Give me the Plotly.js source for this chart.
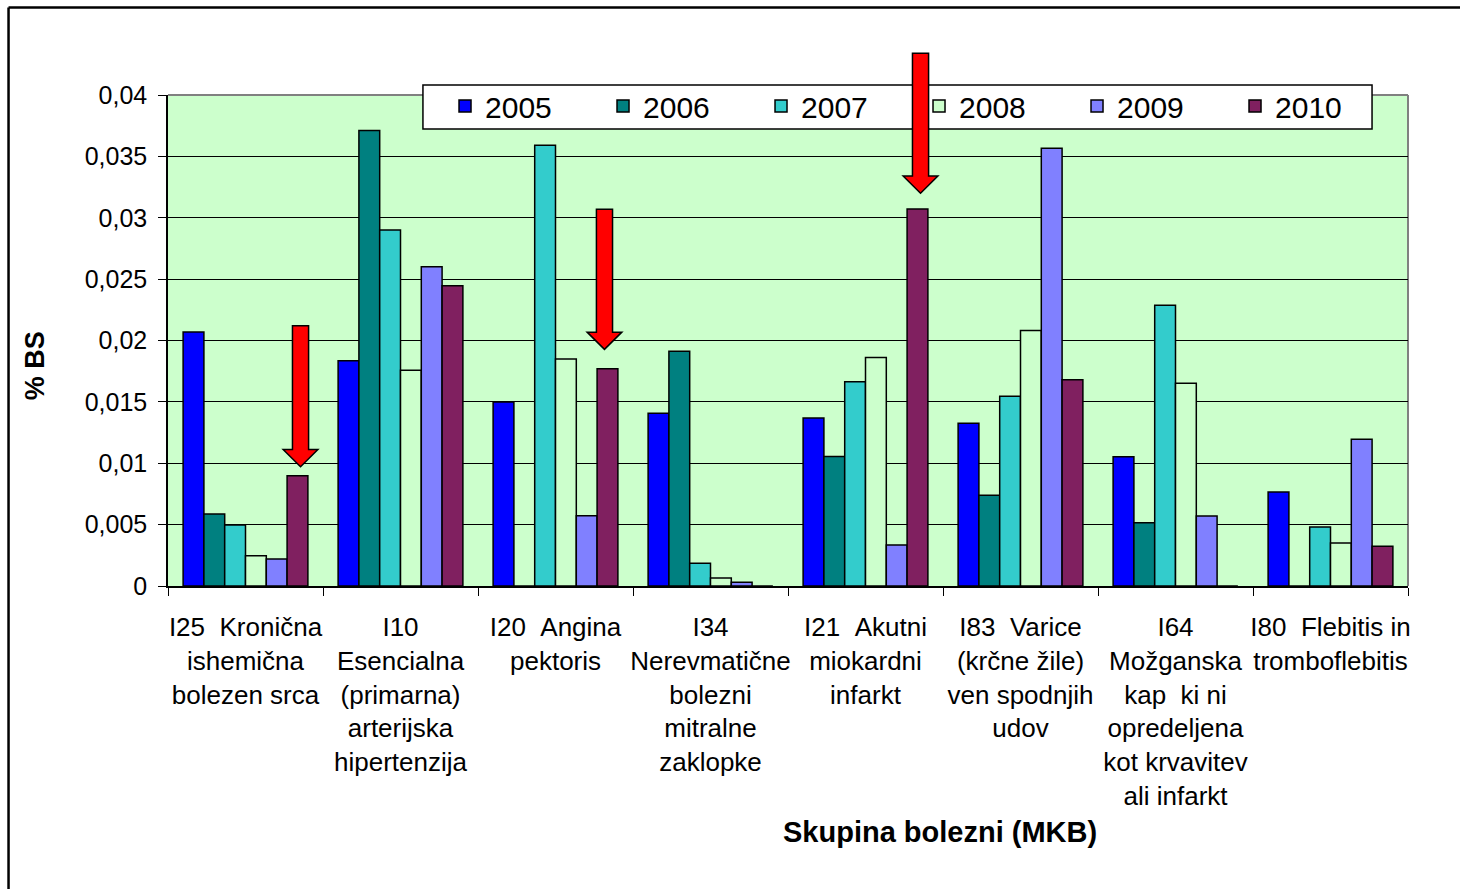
<!DOCTYPE html>
<html>
<head>
<meta charset="utf-8">
<script src="https://cdn.plot.ly/plotly-3.0.1.min.js"></script>
<style>html,body{margin:0;padding:0;background:#fff;}#chart{width:1460px;height:889px;}</style>
</head>
<body>
<div id="chart"></div>
<script>
var NB = '\u00a0';
var categories = [
  'I25' + NB + NB + 'Kronična<br>ishemična<br>bolezen srca',
  'I10<br>Esencialna<br>(primarna)<br>arterijska<br>hipertenzija',
  'I20' + NB + NB + 'Angina<br>pektoris',
  'I34<br>Nerevmatične<br>bolezni<br>mitralne<br>zaklopke',
  'I21' + NB + NB + 'Akutni<br>miokardni<br>infarkt',
  'I83' + NB + NB + 'Varice<br>(krčne žile)<br>ven spodnjih<br>udov',
  'I64<br>Možganska<br>kap' + NB + NB + 'ki ni<br>opredeljena<br>kot krvavitev<br>ali infarkt',
  'I80' + NB + NB + 'Flebitis in<br>tromboflebitis'
];
var years = ['2005', '2006', '2007', '2008', '2009', '2010'];
var v2005 = [0.0207, 0.01836, 0.0150, 0.01407, 0.01369, 0.01325, 0.01052, 0.00766];
var v2006 = [0.00587, 0.0371, 0, 0.01912, 0.01054, 0.0074, 0.00516, 0];
var v2007 = [0.00497, 0.0290, 0.0359, 0.00185, 0.01663, 0.01546, 0.02288, 0.00481];
var v2008 = [0.00247, 0.01757, 0.0185, 0.00065, 0.01861, 0.02082, 0.01652, 0.0035];
var v2009 = [0.0022, 0.0260, 0.00573, 0.0003, 0.00335, 0.03567, 0.00571, 0.01196];
var v2010 = [0.00899, 0.02447, 0.0177, 0, 0.03072, 0.0168, 0, 0.00323];
var seriesValues = [v2005, v2006, v2007, v2008, v2009, v2010];
var colors = ['#0000FF', '#008080', '#33CCCC', '#CCFFCC', '#8080FF', '#802060'];
var yTickVals = [0, 0.005, 0.01, 0.015, 0.02, 0.025, 0.03, 0.035, 0.04];
var yTickText = ['0', '0,005', '0,01', '0,015', '0,02', '0,025', '0,03', '0,035', '0,04'];

// red highlight arrows: position (category index), top value, tip value
var arrowX = [0.355, 2.316, 4.355];
var arrowTop = [0.0212, 0.0307, 0.0434];
var arrowTip = [0.00972, 0.01928, 0.0320];

var yMax = 0.04;
var xMin = -0.5, xMax = 7.5;

var traces = years.map(function (y, i) {
  return {
    type: 'bar',
    name: y,
    x: categories,
    y: seriesValues[i],
    marker: {color: colors[i], line: {color: '#000000', width: 1.5}},
    hoverinfo: 'x+y+name'
  };
});

function xd(v) { return (v - xMin) / (xMax - xMin); }
function yd(v) { return v / yMax; }

var shapes = [];
// legend box (white, drawn under the arrows so the arrow crosses it)
shapes.push({type: 'rect', xref: 'paper', yref: 'paper', x0: 0.2056, x1: 0.971, y0: 0.9308, y1: 1.0204,
  fillcolor: '#FFFFFF', line: {color: '#000000', width: 1.5}, layer: 'above'});
var headLen = 0.0014, shaftHW = 0.052, headHW = 0.112;
for (var i = 0; i < arrowX.length; i++) {
  var c = arrowX[i], t = arrowTop[i], tip = arrowTip[i], hb = tip + headLen;
  var p = 'M' + xd(c - shaftHW) + ',' + yd(t) +
    ' L' + xd(c + shaftHW) + ',' + yd(t) +
    ' L' + xd(c + shaftHW) + ',' + yd(hb) +
    ' L' + xd(c + headHW) + ',' + yd(hb) +
    ' L' + xd(c) + ',' + yd(tip) +
    ' L' + xd(c - headHW) + ',' + yd(hb) +
    ' L' + xd(c - shaftHW) + ',' + yd(hb) + ' Z';
  shapes.push({type: 'path', xref: 'x domain', yref: 'y domain', path: p,
    fillcolor: '#FF0000', line: {color: '#000000', width: 1.5}, layer: 'above'});
}
// plot area border (top/right in gray)
shapes.push({type: 'line', xref: 'paper', yref: 'paper', x0: 0, x1: 1, y0: 1, y1: 1, line: {color: '#808080', width: 2}, layer: 'below'});
shapes.push({type: 'line', xref: 'paper', yref: 'paper', x0: 1, x1: 1, y0: 0, y1: 1, line: {color: '#808080', width: 2}, layer: 'below'});
// outer chart frame
shapes.push({type: 'line', xref: 'paper', yref: 'paper', x0: -0.1286, x1: -0.1286, y0: -0.7, y1: 1.1782, line: {color: '#000000', width: 2.5}});
shapes.push({type: 'line', xref: 'paper', yref: 'paper', x0: -0.1286, x1: 1.2, y0: 1.1782, y1: 1.1782, line: {color: '#000000', width: 2.5}});

var layout = {
  width: 1460, height: 889,
  margin: {l: 168, r: 52, t: 95, b: 303},
  paper_bgcolor: '#FFFFFF',
  plot_bgcolor: '#CCFFCC',
  font: {family: 'Liberation Sans, Arial, sans-serif', color: '#000000', size: 25},
  barmode: 'group',
  bargap: 0.195,
  bargroupgap: 0,
  showlegend: true,
  legend: {
    orientation: 'h', x: 0.2234, y: 1.0305, xanchor: 'left', yanchor: 'top',
    bgcolor: 'rgba(0,0,0,0)', borderwidth: 0,
    font: {size: 30, family: 'Liberation Sans, Arial, sans-serif'},
    entrywidth: 113, entrywidthmode: 'pixels', traceorder: 'normal'
  },
  xaxis: {
    type: 'category', range: [xMin, xMax],
    tickson: 'boundaries', ticks: 'outside', ticklen: 8, tickcolor: '#000000', tickwidth: 1,
    showline: true, linecolor: '#000000', linewidth: 1.5,
    showgrid: false, tickangle: 0, automargin: false,
    ticklabelstandoff: 17,
    tickfont: {size: 26}
  },
  yaxis: {
    range: [0, yMax], tickvals: yTickVals, ticktext: yTickText,
    ticks: 'outside', ticklen: 8, tickcolor: '#000000', tickwidth: 1,
    showline: true, linecolor: '#000000', linewidth: 1.5,
    showgrid: true, gridcolor: '#000000', gridwidth: 1,
    zeroline: false, automargin: false, tickfont: {size: 25},
    ticklabelstandoff: 6
  },
  annotations: [{
    xref: 'paper', yref: 'paper', x: 0.6226, y: -0.5, xanchor: 'center', yanchor: 'middle',
    text: '<b>Skupina bolezni (MKB)</b>', showarrow: false, font: {size: 29}
  }, {
    xref: 'paper', yref: 'paper', x: -0.107, y: 0.448, xanchor: 'center', yanchor: 'middle',
    text: '<b>% BS</b>', textangle: -90, showarrow: false, font: {size: 27}
  }],
  shapes: shapes
};

Plotly.newPlot('chart', traces, layout, {displayModeBar: false});
</script>
</body>
</html>
